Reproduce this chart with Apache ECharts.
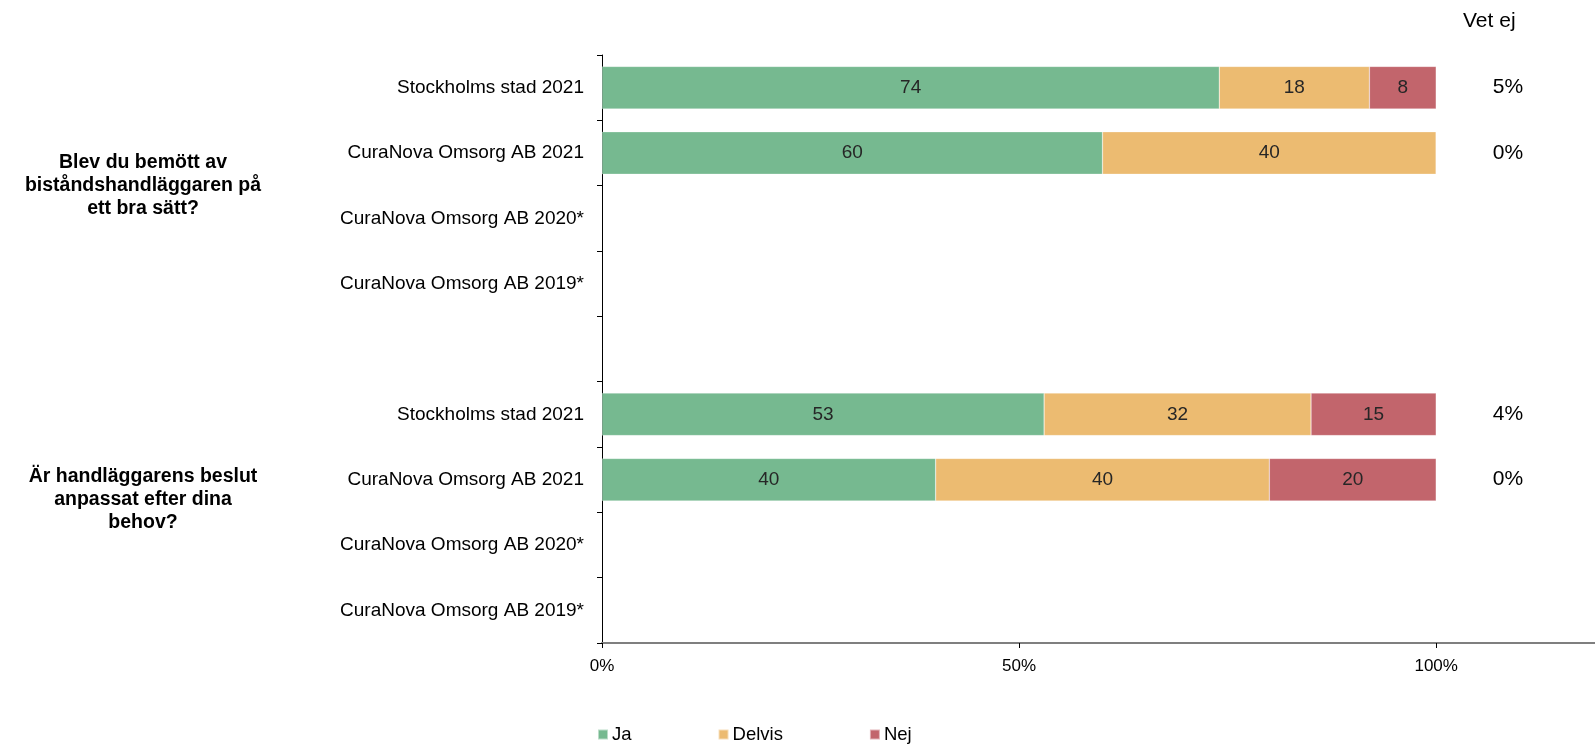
<!DOCTYPE html>
<html>
<head>
<meta charset="utf-8">
<script src="https://cdn.jsdelivr.net/npm/echarts@6/dist/echarts.min.js"></script>
<style>
html,body{margin:0;padding:0;background:#fff;}
#chart{width:1595px;height:747px;}
</style>
</head>
<body>
<div id="chart"></div>
<script>
const categories = ["Stockholms stad 2021","CuraNova Omsorg AB 2021","CuraNova Omsorg AB 2020*","CuraNova Omsorg AB 2019*","","Stockholms stad 2021","CuraNova Omsorg AB 2021","CuraNova Omsorg AB 2020*","CuraNova Omsorg AB 2019*"];
const ja     = [74, 60, null, null, null, 53, 40, null, null];
const delvis = [18, 40, null, null, null, 32, 40, null, null];
const nej    = [8, 0, null, null, null, 15, 20, null, null];
const vetEj  = [5, 0, null, null, null, 4, 0, null, null];
const groupQuestions = ["Blev du bemött av\nbiståndshandläggaren på\nett bra sätt?", "Är handläggarens beslut\nanpassat efter dina\nbehov?"];
const xTicks = [0, 50, 100];
const vetEjTitle = "Vet ej";

const FONT = "'Liberation Sans', Arial, sans-serif";
const colors = {ja:'#76B990', delvis:'#ECBB71', nej:'#C2656C'};

const chart = echarts.init(document.getElementById('chart'), null, {renderer:'canvas'});

function barSeries(name, data, color){
  return {
    name, type:'bar', stack:'total', data,
    barCategoryGap:'35%',
    itemStyle:{color, borderColor:'rgba(255,255,255,0.5)', borderWidth:0.5},
    label:{
      show:true, position:'inside', color:'#262626', fontSize:19, fontFamily:FONT,
      formatter:p => (p.value ? String(p.value) : '')
    },
    emphasis:{disabled:true}
  };
}

const option = {
  animation:false,
  textStyle:{fontFamily:FONT},
  grid:{left:602, top:55, bottom:104, width:1001, containLabel:false, outerBoundsMode:'none'},
  legend:{
    data:['Ja','Delvis','Nej'],
    left:592, top:720,
    itemWidth:10, itemHeight:10, itemGap:86,
    icon:'rect',
    textStyle:{fontSize:18.5, color:'#000', fontFamily:FONT, padding:[0,0,0,-1]}
  },
  xAxis:{
    type:'value', min:0, max:120, interval:50,
    axisLine:{show:true, lineStyle:{color:'#7f7f7f', width:2}},
    axisTick:{show:true, length:5, lineStyle:{color:'#000'}},
    splitLine:{show:false},
    axisLabel:{
      fontSize:17, color:'#000', margin:15, fontFamily:FONT,
      formatter:v => (xTicks.indexOf(v) >= 0 ? v + '%' : '')
    }
  },
  yAxis:[{
    type:'category', data:categories, inverse:true,
    axisLine:{show:true, lineStyle:{color:'#000', width:1}},
    axisTick:{show:true, length:5, lineStyle:{color:'#000'}},
    axisLabel:{fontSize:19, color:'#000', margin:18, fontFamily:FONT}
  },{
    type:'category', data:vetEj.map(v => (v === null ? '' : v + '%')), inverse:true,
    position:'right',
    axisLine:{show:false}, axisTick:{show:false},
    axisLabel:{inside:true, margin:95, align:'center', fontSize:21, color:'#000', fontFamily:FONT}
  }],
  series:[
    barSeries('Ja', ja, colors.ja),
    barSeries('Delvis', delvis, colors.delvis),
    barSeries('Nej', nej, colors.nej)
  ],
  graphic:[
    {type:'text', left:1463, top:11, style:{text:vetEjTitle, font:'21px ' + FONT, fill:'#000'}},
    {type:'text', x:143, y:186, style:{text:groupQuestions[0], font:'bold 19.5px ' + FONT, fill:'#000', textAlign:'center', textVerticalAlign:'middle', lineHeight:23}},
    {type:'text', x:143, y:500, style:{text:groupQuestions[1], font:'bold 19.5px ' + FONT, fill:'#000', textAlign:'center', textVerticalAlign:'middle', lineHeight:23}}
  ]
};
chart.setOption(option);
</script>
</body>
</html>
